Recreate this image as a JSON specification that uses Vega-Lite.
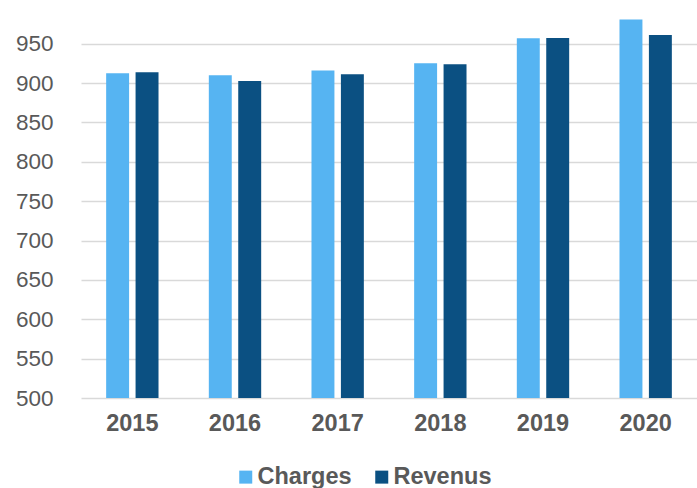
{
  "$schema": "https://vega.github.io/schema/vega-lite/v6.json",
  "width": 616,
  "height": 398,
  "autosize": "none",
  "padding": {"left": 81, "top": 0, "right": 0, "bottom": 90},
  "config": {
    "font": "Liberation Sans",
    "view": {"stroke": null},
    "axis": {"labelColor": "#595959", "labelFont": "Liberation Sans"}
  },
  "data": {
    "values": [
      {"year": "2015", "series": "Charges", "value": 912.3},
      {"year": "2015", "series": "Revenus", "value": 913.6},
      {"year": "2016", "series": "Charges", "value": 909.7},
      {"year": "2016", "series": "Revenus", "value": 902.5},
      {"year": "2017", "series": "Charges", "value": 916},
      {"year": "2017", "series": "Revenus", "value": 911},
      {"year": "2018", "series": "Charges", "value": 925},
      {"year": "2018", "series": "Revenus", "value": 923.7},
      {"year": "2019", "series": "Charges", "value": 956.7},
      {"year": "2019", "series": "Revenus", "value": 957},
      {"year": "2020", "series": "Charges", "value": 980.5},
      {"year": "2020", "series": "Revenus", "value": 961}
    ]
  },
  "mark": {"type": "bar", "clip": true},
  "encoding": {
    "x": {
      "field": "year",
      "type": "nominal",
      "title": null,
      "scale": {"paddingInner": 0.49, "paddingOuter": 0.245},
      "axis": {
        "labelAngle": 0,
        "labelFontSize": 23.5,
        "labelFontWeight": "bold",
        "labelPadding": 13,
        "ticks": false,
        "domain": false
      }
    },
    "xOffset": {
      "field": "series",
      "type": "nominal",
      "scale": {"paddingInner": 0.22, "paddingOuter": 0}
    },
    "y": {
      "field": "value",
      "type": "quantitative",
      "title": null,
      "scale": {"domain": [500, 1005.4], "nice": false, "zero": false},
      "axis": {
        "values": [500, 550, 600, 650, 700, 750, 800, 850, 900, 950],
        "labelFontSize": 22.5,
        "labelPadding": 28,
        "ticks": false,
        "domain": false,
        "gridColor": "#d9d9d9",
        "gridWidth": 1.5
      }
    },
    "color": {
      "field": "series",
      "type": "nominal",
      "scale": {"domain": ["Charges", "Revenus"], "range": ["#56B4F2", "#0B5082"]},
      "legend": {
        "title": null,
        "orient": "none",
        "direction": "horizontal",
        "legendX": 153,
        "legendY": 465,
        "symbolType": "square",
        "symbolSize": 169,
        "symbolStrokeWidth": 0,
        "labelFontSize": 23.5,
        "labelFontWeight": "bold",
        "labelColor": "#595959",
        "labelFont": "Liberation Sans",
        "columnPadding": 18,
        "labelOffset": 0
      }
    }
  }
}
